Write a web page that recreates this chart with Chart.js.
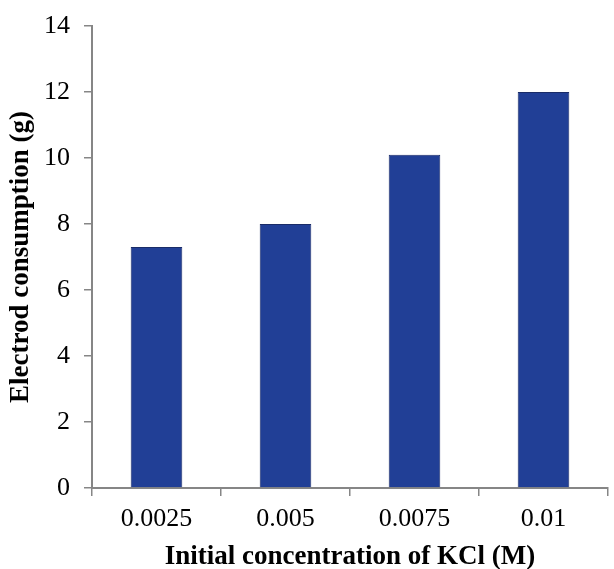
<!DOCTYPE html>
<html>
<head>
<meta charset="utf-8">
<script src="https://cdn.jsdelivr.net/npm/chart.js@4"></script>
<style>
  html, body { margin: 0; padding: 0; background: #fff; }
  #wrap { width: 614px; height: 569px; }
</style>
</head>
<body>
<div id="wrap"><canvas id="mycanvas"></canvas></div>
<script>
var concentrations = ["0.0025", "0.005", "0.0075", "0.01"];
var consumption = [7.3, 8.0, 10.1, 12.0];
var yTicks = [0, 2, 4, 6, 8, 10, 12, 14];

var axisGrey = "#868686";
var serif = "'Liberation Serif', 'Times New Roman', serif";

var chartdata = {
  labels: concentrations,
  datasets: [
    {
      label: "Electrod consumption",
      backgroundColor: "#213f96",
      borderColor: "#1a2c68",
      borderWidth: 1,
      barPercentage: 0.8,
      categoryPercentage: 0.5,
      data: consumption
    }
  ]
};

var ctx = document.getElementById("mycanvas");
var barGraph = new Chart(ctx, {
  type: "bar",
  data: chartdata,
  options: {
    responsive: true,
    maintainAspectRatio: false,
    animation: false,
    layout: { padding: { top: 26, right: 6, left: 0, bottom: 0 } },
    plugins: {
      legend: { display: false },
      tooltip: { enabled: false }
    },
    scales: {
      x: {
        grid: {
          display: true,
          drawOnChartArea: false,
          drawTicks: true,
          tickLength: 8,
          color: axisGrey,
          lineWidth: 1.5
        },
        border: { display: true, color: axisGrey, width: 2 },
        ticks: { color: "#000", font: { family: serif, size: 26 }, padding: 8 },
        title: {
          display: true,
          text: "Initial concentration of KCl (M)",
          color: "#000",
          font: { family: serif, size: 27, weight: "bold", lineHeight: 0.85 },
          padding: { top: 0, bottom: 0 }
        },
        afterFit: function(scale) { scale.height = 81; }
      },
      y: {
        min: 0,
        max: 14,
        afterBuildTicks: function(scale) {
          scale.ticks = yTicks.map(function(v) { return { value: v }; });
        },
        grid: {
          display: true,
          drawOnChartArea: false,
          drawTicks: true,
          tickLength: 8,
          color: axisGrey,
          lineWidth: 1.5
        },
        border: { display: true, color: axisGrey, width: 2 },
        ticks: { color: "#000", font: { family: serif, size: 26, lineHeight: 0.8 }, padding: 14 },
        title: {
          display: true,
          text: "Electrod consumption (g)",
          color: "#000",
          font: { family: serif, size: 27, weight: "bold" },
          padding: { top: 5, bottom: 0 }
        },
        afterFit: function(scale) { scale.width = 92; }
      }
    }
  }
});
</script>
</body>
</html>
